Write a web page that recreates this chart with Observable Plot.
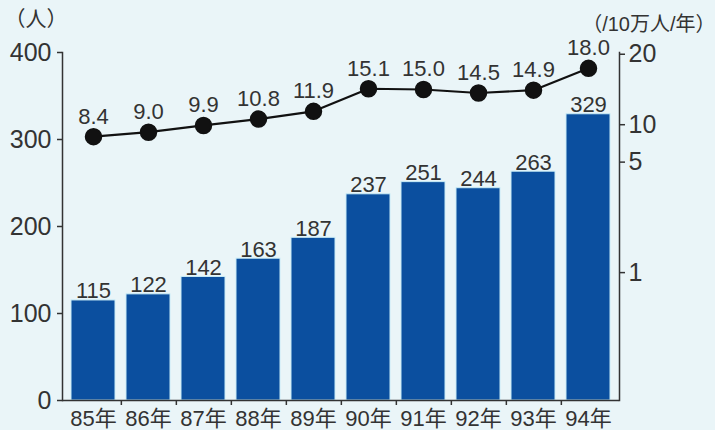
<!DOCTYPE html>
<html><head><meta charset="utf-8">
<script src="https://cdn.jsdelivr.net/npm/d3@7"></script>
<script src="https://cdn.jsdelivr.net/npm/@observablehq/plot@0.6"></script>
<style>html,body{margin:0;padding:0;background:#eaf5f8}</style>
</head><body><div id="chart"></div>
<script>
const years = ["85年","86年","87年","88年","89年","90年","91年","92年","93年","94年"];
const cases = [115,122,142,163,187,237,251,244,263,329];
const rates = [8.4,9.0,9.9,10.8,11.9,15.1,15.0,14.5,14.9,18.0];
const countTicks = [0,100,200,300,400];
const rateTicks = [1,5,10,20];
const leftUnit = "（人）";
const rightUnit = "（/10万人/年）";

const data = years.map((year, i) => ({year, cases: cases[i], rate: rates[i]}));

// right axis (rate) is drawn on the left (count) scale through a piecewise mapping
const rateToCount = d3.scaleLinear().domain(rateTicks).range([147, 274, 317, 398]);

const W = 715, H = 430, mL = 62, mR = 96, mT = 52, mB = 30;
const pin = 0.2, pout = 0.1;
const step = (W - mL - mR) / (years.length - pin + 2 * pout);
const font = "'Liberation Sans','Noto Sans CJK JP',sans-serif";
const ink = "#333";

const chart = Plot.plot({
  width: W, height: H,
  marginTop: mT, marginBottom: mB, marginLeft: mL, marginRight: mR,
  style: {background: "#eaf5f8", fontFamily: font, color: ink, overflow: "visible"},
  x: {domain: years, paddingInner: pin, paddingOuter: pout, axis: null},
  y: {domain: [0, 400], axis: null},
  marks: [
    Plot.barY(data, {x: "year", y: "cases", fill: "#0b4f9f", stroke: "#c8ecf7", strokeWidth: 1}),
    Plot.text(data, {x: "year", y: "cases", text: d => String(d.cases), lineAnchor: "bottom", dy: -2, fontSize: 22, fill: ink}),
    Plot.line(data, {x: "year", y: d => rateToCount(d.rate), stroke: "#111", strokeWidth: 2.2}),
    Plot.dot(data, {x: "year", y: d => rateToCount(d.rate), r: 8, fill: "#111", stroke: "#111"}),
    Plot.text(data, {x: "year", y: d => rateToCount(d.rate), text: d => d.rate.toFixed(1), lineAnchor: "bottom", dy: -13, fontSize: 22, fill: ink}),
    Plot.frame({anchor: "left", stroke: ink, strokeWidth: 1.5}),
    Plot.frame({anchor: "right", stroke: ink, strokeWidth: 1.5}),
    Plot.axisY(countTicks, {anchor: "left", tickSize: 5, tickPadding: 6, fontSize: 25, label: null, stroke: ink, strokeWidth: 1.5}),
    Plot.axisY(rateTicks.map(rateToCount), {anchor: "right", tickSize: 5, tickPadding: 4, fontSize: 25, label: null,
      tickFormat: v => String(Math.round(rateToCount.invert(v))), stroke: ink, strokeWidth: 1.5}),
    Plot.ruleY([0], {stroke: ink, strokeWidth: 1.5}),
    Plot.axisX(years.slice(0, -1), {anchor: "bottom", tickSize: 5, tickFormat: () => "", label: null, dx: step / 2, stroke: ink, strokeWidth: 1.5}),
    Plot.axisX({anchor: "bottom", tickSize: 0, tickPadding: 10, fontSize: 22, label: null}),
    Plot.text([leftUnit], {frameAnchor: "top-left", dx: -58, dy: -41, fontSize: 21, fill: ink}),
    Plot.text([rightUnit], {frameAnchor: "top-right", dx: 96, dy: -36, fontSize: 20, fill: ink})
  ]
});
document.getElementById("chart").appendChild(chart);
</script>
</body></html>
